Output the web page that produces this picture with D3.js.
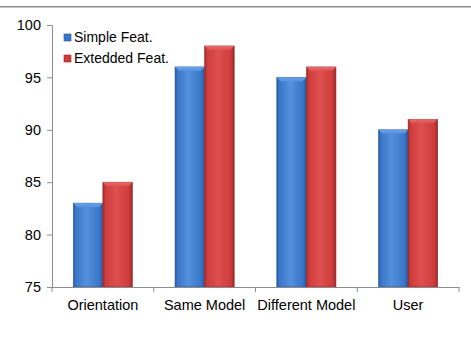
<!DOCTYPE html>
<html>
<head>
<meta charset="utf-8">
<script src="https://cdn.jsdelivr.net/npm/d3@7"></script>
<style>
  html, body { margin: 0; padding: 0; background: #fff; }
  svg { display: block; }
  text { font-family: "Liberation Sans", Arial, sans-serif; fill: #000; }
</style>
</head>
<body>
<svg id="chart" width="471" height="359"></svg>
<script>
// Recognition accuracy (%) per evaluation setting
const categories = ["Orientation", "Same Model", "Different Model", "User"];
const seriesNames = ["Simple Feat.", "Extedded Feat."];
const simpleFeat = [83, 96, 95, 90];
const extendedFeat = [85, 98, 96, 91];
const yTicks = [75, 80, 85, 90, 95, 100];

const svg = d3.select("#chart");
const W = 471, H = 359;
const margin = { left: 52, right: 12, top: 25, bottom: 72 };
const plotW = W - margin.left - margin.right;
const plotH = H - margin.top - margin.bottom;

// top rule
svg.append("rect").attr("x", 0).attr("y", 6).attr("width", W).attr("height", 1.5).attr("fill", "#8c8c8c");

const palette = [
  { base: "#3a76c8", light: "#5490dc", dark: "#28589c", top: "#6aa3ea" },
  { base: "#cf3b3b", light: "#de5050", dark: "#982a2a", top: "#ea6a6a" }
];

const defs = svg.append("defs");
palette.forEach((c, i) => {
  const g = defs.append("linearGradient").attr("id", "side" + i)
    .attr("x1", 0).attr("x2", 1).attr("y1", 0).attr("y2", 0);
  g.append("stop").attr("offset", "0%").attr("stop-color", c.dark);
  g.append("stop").attr("offset", "8%").attr("stop-color", c.base);
  g.append("stop").attr("offset", "45%").attr("stop-color", c.light);
  g.append("stop").attr("offset", "88%").attr("stop-color", c.base);
  g.append("stop").attr("offset", "100%").attr("stop-color", c.dark);
  const t = defs.append("linearGradient").attr("id", "top" + i)
    .attr("x1", 0).attr("x2", 0).attr("y1", 0).attr("y2", 1);
  t.append("stop").attr("offset", "0%").attr("stop-color", c.top);
  t.append("stop").attr("offset", "100%").attr("stop-color", c.light);
});

const g = svg.append("g").attr("transform", `translate(${margin.left},${margin.top})`);

const x = d3.scaleBand().domain(categories).range([0, plotW]).paddingInner(0).paddingOuter(0);
const inner = d3.scaleBand().domain(seriesNames).range([0, x.bandwidth()]).paddingInner(0).paddingOuter(0.72);
const y = d3.scaleLinear().domain([75, 100]).range([plotH, 0]);

// y axis
const yAxis = g.append("g").call(d3.axisLeft(y).tickValues(yTicks).tickSize(5).tickPadding(6));
yAxis.attr("font-size", null).attr("font-family", null);
yAxis.select(".domain").attr("stroke", "#8c8c8c");
yAxis.selectAll(".tick line").attr("stroke", "#8c8c8c");
yAxis.selectAll("text").style("font-size", "14.5px").attr("fill", "#000");

// bars
const data = categories.map((c, i) => ({ cat: c, vals: [simpleFeat[i], extendedFeat[i]] }));
const groups = g.selectAll(".grp").data(data).join("g")
  .attr("transform", d => `translate(${x(d.cat)},0)`);

groups.each(function (d) {
  const sel = d3.select(this);
  d.vals.forEach((v, i) => {
    const bx = inner(seriesNames[i]);
    const bw = inner.bandwidth();
    const by = y(v);
    const bh = plotH - by;
    sel.append("rect").attr("x", bx).attr("y", by).attr("width", bw).attr("height", bh)
      .attr("fill", `url(#side${i})`).attr("stroke", palette[i].dark).attr("stroke-width", 0.6);
    // bevel cap
    const bev = 4;
    sel.append("path")
      .attr("d", `M${bx},${by} L${bx + bw},${by} L${bx + bw - bev},${by + bev} L${bx + bev},${by + bev} Z`)
      .attr("fill", `url(#top${i})`);
  });
});

// x axis
const xAxis = g.append("g").attr("transform", `translate(0,${plotH})`)
  .call(d3.axisBottom(x).tickSize(0).tickPadding(13));
xAxis.attr("font-size", null).attr("font-family", null);
xAxis.select(".domain").attr("stroke", "#8c8c8c");
xAxis.selectAll("text").style("font-size", "14.5px").attr("fill", "#000");
// category separators
const bounds = categories.map(c => x(c)).concat([plotW]);
g.append("g").selectAll("line").data(bounds).join("line")
  .attr("x1", d => d).attr("x2", d => d)
  .attr("y1", plotH).attr("y2", plotH + 5)
  .attr("stroke", "#8c8c8c");

// legend
const legend = svg.append("g").attr("transform", "translate(64,34)");
seriesNames.forEach((name, i) => {
  const row = legend.append("g").attr("transform", `translate(0,${i * 21})`);
  row.append("rect").attr("width", 7).attr("height", 7)
    .attr("fill", palette[i].base).attr("stroke", palette[i].dark).attr("stroke-width", 0.6);
  row.append("text").attr("x", 10).attr("y", 8).style("font-size", "14px").text(name);
});
</script>
</body>
</html>
